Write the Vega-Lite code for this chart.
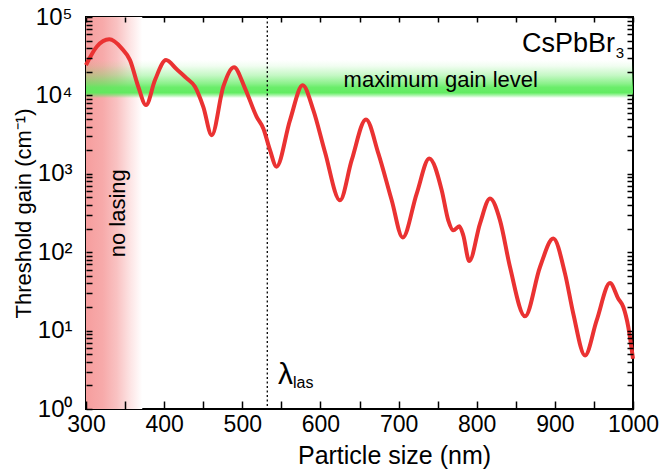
{
  "$schema": "https://vega.github.io/schema/vega-lite/v6.json",
  "width": 547,
  "height": 392,
  "autosize": "none",
  "padding": {"left": 86, "top": 17, "right": 28, "bottom": 61},
  "background": "white",
  "config": {
    "view": {"stroke": "black", "strokeWidth": 2},
    "axis": {
      "domain": false,
      "grid": false,
      "zindex": 1,
      "labelFont": "Liberation Sans",
      "titleFont": "Liberation Sans",
      "labelColor": "black",
      "titleColor": "black",
      "tickColor": "black",
      "tickWidth": 1.5,
      "titleFontWeight": "normal",
      "labelOverlap": false,
      "labelFlush": false,
      "labelBound": false
    }
  },
  "datasets": {
    "curve": [
      {"s": 300, "g": 24400}, {"s": 313.7, "g": 41800}, {"s": 329.8, "g": 51900}, {"s": 345.7, "g": 39800},
      {"s": 356.3, "g": 28200}, {"s": 366.9, "g": 12900}, {"s": 376.8, "g": 7520}, {"s": 388.3, "g": 15700},
      {"s": 402.4, "g": 28200}, {"s": 416.1, "g": 21500}, {"s": 428.9, "g": 16500}, {"s": 439.5, "g": 12900},
      {"s": 450.1, "g": 7150}, {"s": 460.9, "g": 3110}, {"s": 475.7, "g": 12900}, {"s": 489.4, "g": 22800},
      {"s": 503.5, "g": 12300}, {"s": 518.4, "g": 5330}, {"s": 526.9, "g": 3790}, {"s": 535.5, "g": 2000},
      {"s": 543.8, "g": 1233}, {"s": 561.1, "g": 4840}, {"s": 577.3, "g": 13500}, {"s": 590.9, "g": 6490},
      {"s": 605.8, "g": 1900}, {"s": 625, "g": 460}, {"s": 640, "g": 1490}, {"s": 658.3, "g": 4930},
      {"s": 674.1, "g": 1820}, {"s": 691.2, "g": 460}, {"s": 705.3, "g": 154}, {"s": 723.2, "g": 560},
      {"s": 739.3, "g": 1570}, {"s": 755.2, "g": 618}, {"s": 763.6, "g": 255}, {"s": 770, "g": 190},
      {"s": 777.7, "g": 214}, {"s": 782.8, "g": 164}, {"s": 790.5, "g": 77}, {"s": 804.2, "g": 232},
      {"s": 817, "g": 484}, {"s": 829.8, "g": 255}, {"s": 842.6, "g": 64.7}, {"s": 861.8, "g": 15.2},
      {"s": 881, "g": 64.7}, {"s": 898, "g": 149}, {"s": 913, "g": 53.3}, {"s": 923.6, "g": 16.4},
      {"s": 938.6, "g": 4.82}, {"s": 953.5, "g": 13.5}, {"s": 970.6, "g": 40.4}, {"s": 981.2, "g": 25.5},
      {"s": 987.6, "g": 20}, {"s": 994, "g": 11.1}, {"s": 1000, "g": 4.38}
    ]
  },
  "layer": [
    {
      "data": {"values": [{"a": 300, "b": 372}]},
      "mark": {"type": "rect", "fill": {"gradient": "linear", "x1": 0, "y1": 0, "x2": 1, "y2": 0,
        "stops": [
          {"offset": 0, "color": "#f69e9e"},
          {"offset": 0.3, "color": "#f7aaaa"},
          {"offset": 0.55, "color": "#f9c2c2"},
          {"offset": 0.8, "color": "#fde6e6"},
          {"offset": 1, "color": "#ffffff"}
        ]}},
      "encoding": {
        "x": {"field": "a", "type": "quantitative", "scale": {"domain": [300, 1000], "nice": false, "zero": false},
          "axis": {
            "orient": "top", "labels": false, "title": null, "tickSize": -5, "zindex": 2,
            "values": [300,350,400,450,500,550,600,650,700,750,800,850,900,950,1000],
            "encode": {"ticks": {"y2": {"condition": {"test": "datum.value % 100 == 0", "value": 8}, "value": 5}}}
          }},
        "x2": {"field": "b"}
      }
    },
    {
      "data": {"values": [{"lo": 9250, "hi": 28300}]},
      "mark": {"type": "rect", "fill": {"gradient": "linear", "x1": 0, "y1": 0, "x2": 0, "y2": 1,
        "stops": [
          {"offset": 0, "color": "rgba(90,235,90,0)"},
          {"offset": 0.15, "color": "rgba(90,235,90,0.08)"},
          {"offset": 0.4, "color": "rgba(90,235,90,0.35)"},
          {"offset": 0.62, "color": "rgba(90,235,90,0.7)"},
          {"offset": 0.72, "color": "rgba(90,235,90,0.9)"},
          {"offset": 0.86, "color": "rgba(90,235,90,0.95)"},
          {"offset": 0.93, "color": "rgba(90,235,90,0.5)"},
          {"offset": 1, "color": "rgba(90,235,90,0)"}
        ]}},
      "encoding": {
        "y": {"field": "lo", "type": "quantitative", "scale": {"type": "log", "domain": [1, 100000], "nice": false},
          "axis": {
            "orient": "right", "labels": false, "title": null, "tickSize": -6, "zindex": 2,
            "values": [1,2,3,4,5,6,7,8,9,10,20,30,40,50,60,70,80,90,100,200,300,400,500,600,700,800,900,1000,2000,3000,4000,5000,6000,7000,8000,9000,10000,20000,30000,40000,50000,60000,70000,80000,90000,100000],
            "encode": {"ticks": {"x2": {"condition": {"test": "indexof([1,10,100,1000,10000,100000], datum.value) >= 0", "value": -10}, "value": -6}}}
          }},
        "y2": {"field": "hi"}
      }
    },
    {
      "data": {"values": [{"w": 532}]},
      "mark": {"type": "rule", "color": "black", "strokeWidth": 1.3, "strokeDash": [2, 2.5]},
      "encoding": {
        "x": {"field": "w", "type": "quantitative", "scale": {"domain": [300, 1000], "nice": false, "zero": false}, "axis": null}
      }
    },
    {
      "data": {"name": "curve"},
      "mark": {"type": "line", "color": "#ea3232", "strokeWidth": 4, "interpolate": "monotone"},
      "encoding": {
        "x": {"field": "s", "type": "quantitative", "scale": {"domain": [300, 1000], "nice": false, "zero": false},
          "axis": {
            "orient": "bottom", "title": "Particle size (nm)", "titleFontSize": 25, "labelFontSize": 23, "zindex": 2,
            "values": [300,350,400,450,500,550,600,650,700,750,800,850,900,950,1000],
            "labelExpr": "datum.value % 100 == 0 ? format(datum.value, 'd') : ''",
            "tickSize": -8,
            "encode": {"ticks": {"y2": {"condition": {"test": "datum.value % 100 == 0", "value": -8}, "value": -5}}},
            "labelPadding": 12, "titleX": 308, "titleAlign": "center", "titleY": 54, "titleBaseline": "alphabetic"
          }},
        "y": {"field": "g", "type": "quantitative", "scale": {"type": "log", "domain": [1, 100000], "nice": false},
          "axis": {
            "orient": "left", "title": "Threshold gain (cm⁻¹)", "titleFontSize": 22, "labelFontSize": 24, "zindex": 2,
            "values": [1,2,3,4,5,6,7,8,9,10,20,30,40,50,60,70,80,90,100,200,300,400,500,600,700,800,900,1000,2000,3000,4000,5000,6000,7000,8000,9000,10000,20000,30000,40000,50000,60000,70000,80000,90000,100000],
            "labelExpr": "datum.value == 1 ? '10⁰' : datum.value == 10 ? '10¹' : datum.value == 100 ? '10²' : datum.value == 1000 ? '10³' : datum.value == 10000 ? '10⁴' : datum.value == 100000 ? '10⁵' : ''",
            "tickSize": -6,
            "encode": {"ticks": {"x2": {"condition": {"test": "indexof([1,10,100,1000,10000,100000], datum.value) >= 0", "value": 10}, "value": 6}}},
            "labelPadding": 20, "titleX": -73, "titleBaseline": "top"
          }}
      }
    },
    {
      "data": {"values": [{"t": "no lasing", "x": 341, "y": 314}]},
      "mark": {"type": "text", "angle": 270, "align": "center", "baseline": "middle", "font": "Liberation Sans", "fontSize": 22, "color": "black"},
      "encoding": {
        "x": {"field": "x", "type": "quantitative", "axis": null},
        "y": {"field": "y", "type": "quantitative", "axis": null},
        "text": {"field": "t"}
      }
    },
    {
      "data": {"values": [{"t": "maximum gain level", "x": 754, "y": 12800}]},
      "mark": {"type": "text", "align": "center", "baseline": "alphabetic", "font": "Liberation Sans", "fontSize": 22, "color": "black"},
      "encoding": {
        "x": {"field": "x", "type": "quantitative", "axis": null},
        "y": {"field": "y", "type": "quantitative", "axis": null},
        "text": {"field": "t"}
      }
    },
    {
      "data": {"values": [{"t": "CsPbBr", "x": 977, "y": 35700}]},
      "mark": {"type": "text", "align": "right", "baseline": "alphabetic", "font": "Liberation Sans", "fontSize": 27, "color": "black"},
      "encoding": {
        "x": {"field": "x", "type": "quantitative", "axis": null},
        "y": {"field": "y", "type": "quantitative", "axis": null},
        "text": {"field": "t"}
      }
    },
    {
      "data": {"values": [{"t": "3", "x": 978, "y": 29900}]},
      "mark": {"type": "text", "align": "left", "baseline": "alphabetic", "font": "Liberation Sans", "fontSize": 15, "color": "black"},
      "encoding": {
        "x": {"field": "x", "type": "quantitative", "axis": null},
        "y": {"field": "y", "type": "quantitative", "axis": null},
        "text": {"field": "t"}
      }
    },
    {
      "data": {"values": [{"t": "λ", "x": 545.7, "y": 2.06}]},
      "mark": {"type": "text", "align": "left", "baseline": "alphabetic", "font": "Liberation Sans", "fontSize": 30, "color": "black"},
      "encoding": {
        "x": {"field": "x", "type": "quantitative", "axis": null},
        "y": {"field": "y", "type": "quantitative", "axis": null},
        "text": {"field": "t"}
      }
    },
    {
      "data": {"values": [{"t": "las", "x": 564.9, "y": 1.83}]},
      "mark": {"type": "text", "align": "left", "baseline": "alphabetic", "font": "Liberation Sans", "fontSize": 16, "color": "black"},
      "encoding": {
        "x": {"field": "x", "type": "quantitative", "axis": null},
        "y": {"field": "y", "type": "quantitative", "axis": null},
        "text": {"field": "t"}
      }
    }
  ],
  "resolve": {"axis": {"x": "independent", "y": "independent"}}
}
